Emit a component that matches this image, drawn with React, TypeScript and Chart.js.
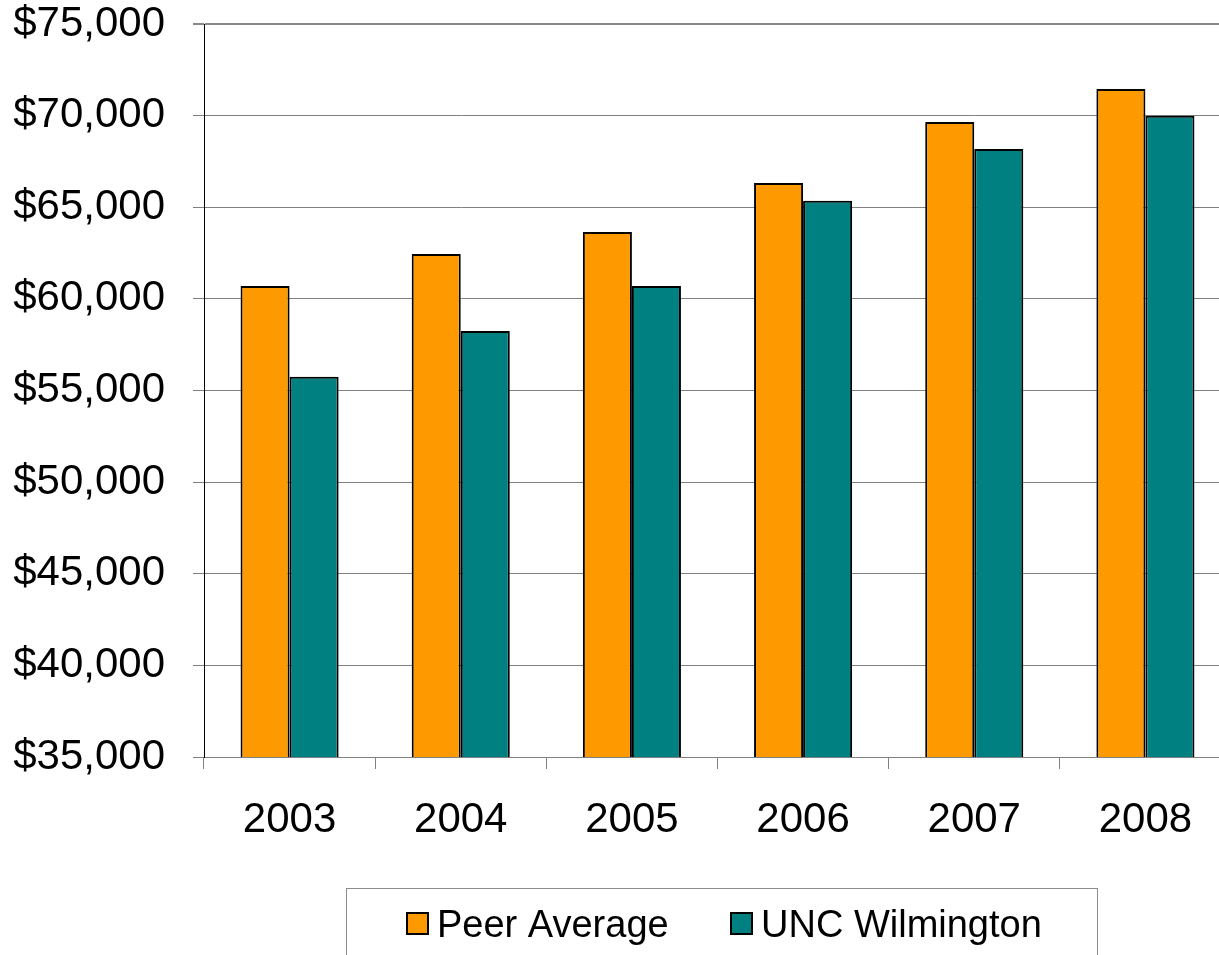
import React, { useEffect, useRef } from "react";
import { Chart, registerables } from "chart.js";

Chart.register(...registerables);

const categories = ["2003", "2004", "2005", "2006", "2007", "2008"];
const peerAverage = [60700, 62450, 63650, 66330, 69650, 71450];
const uncWilmington = [55750, 58250, 60700, 65350, 68180, 70000];
const seriesLabels = ["Peer Average", "UNC Wilmington"];
const seriesColors = ["#FF9900", "#008080"];

const FONT = "'Liberation Sans', Arial, sans-serif";

const legendBoxPlugin = {
  id: "legendBox",
  afterDraw(chart: any) {
    const ctx = chart.ctx;
    ctx.save();
    ctx.strokeStyle = "#8c8c8c";
    ctx.lineWidth = 1;
    ctx.strokeRect(346.5, 888.5, 751, 80);
    ctx.font = `38px ${FONT}`;
    ctx.textBaseline = "alphabetic";
    ctx.fillStyle = "#000";
    const items = [
      { sx: 407, tx: 437 },
      { sx: 731, tx: 761 },
    ];
    items.forEach((it, i) => {
      ctx.fillStyle = seriesColors[i];
      ctx.fillRect(it.sx, 913, 21, 21);
      ctx.strokeStyle = "#000";
      ctx.lineWidth = 2;
      ctx.strokeRect(it.sx, 913, 21, 21);
      ctx.fillStyle = "#000";
      ctx.fillText(seriesLabels[i], it.tx, 937);
    });
    ctx.restore();
  },
};

export default function App() {
  const ref = useRef<HTMLCanvasElement>(null);
  useEffect(() => {
    if (!ref.current) return;
    const chart = new Chart(ref.current, {
      type: "bar",
      data: {
        labels: categories,
        datasets: [
          {
            label: seriesLabels[0],
            data: peerAverage,
            backgroundColor: seriesColors[0],
            borderColor: "#000",
            borderWidth: 2,
            borderSkipped: false,
          },
          {
            label: seriesLabels[1],
            data: uncWilmington,
            backgroundColor: seriesColors[1],
            borderColor: "#000",
            borderWidth: 2,
            borderSkipped: false,
          },
        ],
      },
      options: {
        animation: false,
        responsive: false,
        maintainAspectRatio: false,
        datasets: { bar: { categoryPercentage: 0.573, barPercentage: 1 } },
        layout: { padding: { top: 24, right: 9, bottom: 78, left: 0 } },
        plugins: { legend: { display: false }, tooltip: { enabled: false } },
        scales: {
          x: {
            offset: true,
            grid: {
              offset: true,
              drawOnChartArea: false,
              drawTicks: true,
              tickLength: 12,
              color: "#808080",
            },
            border: { display: true, color: "#808080", width: 1 },
            ticks: {
              font: { family: FONT, size: 42 },
              color: "#000",
              padding: 26,
            },
            afterFit: (s: any) => {
              s.height = 120;
              s.paddingLeft = 0;
              s.paddingRight = 0;
            },
          },
          y: {
            min: 35000,
            max: 75000,
            ticks: {
              stepSize: 5000,
              font: { family: FONT, size: 42 },
              color: "#000",
              padding: 28,
              callback: (v: any) => "$" + Number(v).toLocaleString("en-US"),
            },
            grid: {
              color: (c: any) => (c.index === 8 ? "#888888" : "#808080"),
              lineWidth: (c: any) => (c.index === 8 ? 2 : 1),
              tickLength: 11,
            },
            border: { display: true, color: "#000", width: 1 },
            afterFit: (s: any) => {
              s.width = 204;
              s.paddingTop = 0;
              s.paddingBottom = 0;
            },
          },
        },
      },
      plugins: [legendBoxPlugin],
    });
    return () => chart.destroy();
  }, []);
  return (
    <div
      style={{
        position: "fixed",
        left: 0,
        top: 0,
        width: 1219,
        height: 955,
        overflow: "hidden",
        background: "#fff",
      }}
    >
      <canvas ref={ref} width={1240} height={955} style={{ display: "block" }} />
    </div>
  );
}
